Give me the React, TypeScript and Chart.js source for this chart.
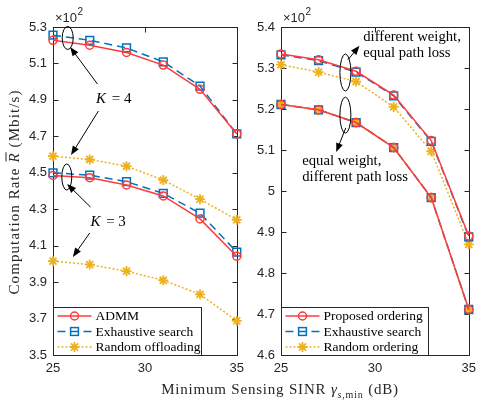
import React, { useEffect, useRef } from 'react';
import { Chart, registerables } from 'chart.js';

Chart.register(...registerables);

// ---------------- data ----------------
const xValues = [25, 27, 29, 31, 33, 35];

// left panel (Mbit/s)
const admmK4 = [522.7, 520.0, 516.0, 509.1, 495.8, 471.3];
const exhaustiveK4 = [525.5, 522.7, 518.5, 510.9, 497.6, 471.3];
const randomK4 = [459.1, 457.3, 453.6, 446.0, 435.5, 424.2];
const admmK3 = [448.5, 447.3, 443.3, 437.3, 424.7, 404.2];
const exhaustiveK3 = [450.0, 448.7, 445.1, 438.7, 427.8, 406.5];
const randomK3 = [401.5, 399.6, 396.0, 391.0, 383.3, 368.7];

// right panel (Mbit/s)
const proposedDiffWeight = [533.4, 532.0, 529.2, 523.4, 512.3, 489.0];
const exhaustiveDiffWeight = [533.2, 531.8, 529.0, 523.2, 512.1, 488.8];
const randomDiffWeight = [530.8, 529.0, 526.7, 520.5, 509.7, 487.0];
const proposedDiffPath = [521.1, 519.8, 516.7, 510.6, 498.4, 471.1];
const exhaustiveDiffPath = [521.1, 519.8, 516.7, 510.6, 498.4, 471.1];
const randomDiffPath = [521.1, 519.8, 516.7, 510.6, 498.4, 471.1];

const xTicks = [25, 30, 35];
const leftYTicks = [350, 370, 390, 410, 430, 450, 470, 490, 510, 530];
const rightYTicks = [460, 470, 480, 490, 500, 510, 520, 530, 540];

const leftLegend = ['ADMM', 'Exhaustive search', 'Random offloading'];
const rightLegend = ['Proposed ordering', 'Exhaustive search', 'Random ordering'];

// ---------------- styles ----------------
const RED = '#ff3b3b';
const BLUE = '#0072bd';
const ORANGE = '#edb120';
const AXIS = '#262626';
const SERIF = '"Liberation Serif", "Times New Roman", serif';
const SANS = '"Liberation Sans", Arial, sans-serif';
const DASH = [8, 5];
const DOT = [2, 2];

const pts = (ys: number[]) => xValues.map((x, i) => ({ x, y: ys[i] }));

const redDs = (ys: number[]) => ({
  data: pts(ys),
  borderColor: RED,
  backgroundColor: 'rgba(0,0,0,0)',
  borderWidth: 1.5,
  pointStyle: 'circle',
  pointRadius: 4,
  pointBorderWidth: 1.5,
  pointBorderColor: RED,
  pointBackgroundColor: 'rgba(0,0,0,0)',
  clip: false,
});
const blueDs = (ys: number[]) => ({
  data: pts(ys),
  borderColor: BLUE,
  backgroundColor: 'rgba(0,0,0,0)',
  borderWidth: 1.5,
  borderDash: DASH,
  pointStyle: 'rect',
  pointRadius: 5.5,
  pointBorderWidth: 1.5,
  pointBorderColor: BLUE,
  pointBackgroundColor: 'rgba(0,0,0,0)',
  clip: false,
});
const orangeDs = (ys: number[]) => ({
  data: pts(ys),
  borderColor: ORANGE,
  backgroundColor: ORANGE,
  borderWidth: 1.5,
  borderDash: DOT,
  pointStyle: 'star',
  pointRadius: 5,
  pointBorderWidth: 1.8,
  pointBorderColor: ORANGE,
  pointBackgroundColor: ORANGE,
  clip: false,
});

// ---------------- drawing helpers ----------------
function drawMarker(ctx: CanvasRenderingContext2D, kind: string, x: number, y: number, color: string) {
  ctx.save();
  ctx.setLineDash([]);
  ctx.strokeStyle = color;
  if (kind === 'circle') {
    ctx.lineWidth = 1.5;
    ctx.beginPath();
    ctx.arc(x, y, 4, 0, Math.PI * 2);
    ctx.stroke();
  } else if (kind === 'square') {
    ctx.lineWidth = 1.5;
    ctx.strokeRect(x - 3.9, y - 3.9, 7.8, 7.8);
  } else {
    ctx.lineWidth = 1.8;
    ctx.beginPath();
    for (let k = 0; k < 4; k++) {
      const a = (k * Math.PI) / 4;
      ctx.moveTo(x - 5 * Math.cos(a), y - 5 * Math.sin(a));
      ctx.lineTo(x + 5 * Math.cos(a), y + 5 * Math.sin(a));
    }
    ctx.stroke();
  }
  ctx.restore();
}

function arrow(ctx: CanvasRenderingContext2D, x1: number, y1: number, x2: number, y2: number) {
  const ang = Math.atan2(y2 - y1, x2 - x1);
  const hl = 9;
  const hw = 3.5;
  ctx.save();
  ctx.strokeStyle = '#000';
  ctx.fillStyle = '#000';
  ctx.lineWidth = 1;
  ctx.beginPath();
  ctx.moveTo(x1, y1);
  ctx.lineTo(x2 - hl * 0.8 * Math.cos(ang), y2 - hl * 0.8 * Math.sin(ang));
  ctx.stroke();
  ctx.beginPath();
  ctx.moveTo(x2, y2);
  ctx.lineTo(x2 - hl * Math.cos(ang) + hw * Math.sin(ang), y2 - hl * Math.sin(ang) - hw * Math.cos(ang));
  ctx.lineTo(x2 - hl * Math.cos(ang) - hw * Math.sin(ang), y2 - hl * Math.sin(ang) + hw * Math.cos(ang));
  ctx.closePath();
  ctx.fill();
  ctx.restore();
}

function ellipse(ctx: CanvasRenderingContext2D, cx: number, cy: number, rx: number, ry: number) {
  ctx.save();
  ctx.strokeStyle = '#000';
  ctx.lineWidth = 1;
  ctx.beginPath();
  ctx.ellipse(cx, cy, rx, ry, 0, 0, Math.PI * 2);
  ctx.stroke();
  ctx.restore();
}

const framePlugin = (yTicks: number[]) => ({
  id: 'frame',
  beforeDatasetsDraw(chart: any) {
    const { ctx, chartArea: a, scales } = chart;
    ctx.save();
    ctx.strokeStyle = AXIS;
    ctx.lineWidth = 1;
    const L = Math.round(a.left) + 0.5;
    const R = Math.round(a.right) + 0.5;
    const T = Math.round(a.top) + 0.5;
    const B = Math.round(a.bottom) + 0.5;
    ctx.strokeRect(L, T, R - L, B - T);
    ctx.beginPath();
    yTicks.forEach((v) => {
      const py = Math.round(scales.y.getPixelForValue(v)) + 0.5;
      ctx.moveTo(L, py);
      ctx.lineTo(L + 5, py);
      ctx.moveTo(R, py);
      ctx.lineTo(R - 5, py);
    });
    xTicks.forEach((v) => {
      const px = Math.round(scales.x.getPixelForValue(v)) + 0.5;
      ctx.moveTo(px, B);
      ctx.lineTo(px, B - 5);
      ctx.moveTo(px, T);
      ctx.lineTo(px, T + 5);
    });
    ctx.stroke();
    // x10^2
    ctx.fillStyle = AXIS;
    ctx.textBaseline = 'alphabetic';
    ctx.textAlign = 'left';
    ctx.font = `13px ${SANS}`;
    ctx.fillText('\u00d710', a.left + 2, a.top - 5);
    const w = ctx.measureText('\u00d710').width;
    ctx.font = `10px ${SANS}`;
    ctx.fillText('2', a.left + 2 + w + 0.5, a.top - 12);
    ctx.restore();
  },
});

const legendPlugin = (labels: string[], boxW: number) => ({
  id: 'boxlegend',
  afterDraw(chart: any) {
    const { ctx, chartArea: a } = chart;
    const L = Math.round(a.left) + 0.5;
    const B = Math.round(a.bottom) + 0.5;
    const T = B - 48;
    ctx.save();
    ctx.fillStyle = '#fff';
    ctx.fillRect(L, T, boxW, 48);
    ctx.strokeStyle = AXIS;
    ctx.lineWidth = 1;
    ctx.strokeRect(L, T, boxW, 48);
    const kinds = ['circle', 'square', 'star'];
    const colors = [RED, BLUE, ORANGE];
    const dashes = [[], DASH, DOT];
    labels.forEach((lab, i) => {
      const y = T + 8.5 + i * 15.5;
      ctx.save();
      ctx.strokeStyle = colors[i];
      ctx.lineWidth = 1.5;
      ctx.setLineDash(dashes[i]);
      ctx.beginPath();
      ctx.moveTo(L + 4, y);
      ctx.lineTo(L + 38, y);
      ctx.stroke();
      ctx.restore();
      drawMarker(ctx, kinds[i], L + 21, y, colors[i]);
      ctx.fillStyle = '#000';
      ctx.font = `13.5px ${SERIF}`;
      ctx.textBaseline = 'middle';
      ctx.textAlign = 'left';
      ctx.fillText(lab, L + 42, y + 0.5);
    });
    ctx.restore();
  },
});

const yLabelPlugin = {
  id: 'ylabel',
  afterDraw(chart: any) {
    const { ctx, chartArea: a } = chart;
    ctx.save();
    ctx.translate(15, (a.top + a.bottom) / 2 + 1);
    ctx.rotate(-Math.PI / 2);
    ctx.fillStyle = AXIS;
    ctx.strokeStyle = AXIS;
    ctx.textBaseline = 'middle';
    ctx.textAlign = 'left';
    (ctx as any).letterSpacing = '1.1px';
    const parts = [
      { t: 'Computation Rate ', f: `15px ${SERIF}`, over: false },
      { t: 'R', f: `italic 15px ${SERIF}`, over: true },
      { t: ' (Mbit/s)', f: `15px ${SERIF}`, over: false },
    ];
    let total = 0;
    parts.forEach((p) => {
      ctx.font = p.f;
      total += ctx.measureText(p.t).width;
    });
    let x = -total / 2;
    parts.forEach((p) => {
      ctx.font = p.f;
      const w = ctx.measureText(p.t).width;
      ctx.fillText(p.t, x, 0);
      if (p.over) {
        ctx.lineWidth = 1;
        ctx.beginPath();
        ctx.moveTo(x + 1, -9);
        ctx.lineTo(x + w, -9);
        ctx.stroke();
      }
      x += w;
    });
    ctx.restore();
  },
};

function mathText(ctx: CanvasRenderingContext2D, cx: number, cy: number, v: string, n: string) {
  ctx.save();
  ctx.fillStyle = '#000';
  ctx.textBaseline = 'middle';
  ctx.textAlign = 'left';
  ctx.font = `italic 15px ${SERIF}`;
  const w1 = ctx.measureText(v).width;
  ctx.font = `15px ${SERIF}`;
  const rest = ' = ' + n;
  const w2 = ctx.measureText(rest).width;
  const x0 = cx - (w1 + w2 + 2) / 2;
  ctx.font = `italic 15px ${SERIF}`;
  ctx.fillText(v, x0, cy);
  ctx.font = `15px ${SERIF}`;
  ctx.fillText(rest, x0 + w1 + 2, cy);
  ctx.restore();
}

const leftAnnot = {
  id: 'leftAnnot',
  afterDatasetsDraw(chart: any) {
    const { ctx, scales } = chart;
    const X = (v: number) => scales.x.getPixelForValue(v);
    const Y = (v: number) => scales.y.getPixelForValue(v);
    ellipse(ctx, X(25.8), Y(524), 5.5, 11.5);
    mathText(ctx, X(28.3), Y(490.5), 'K', '4');
    arrow(ctx, X(27.42), Y(498.7), X(25.93), Y(519));
    arrow(ctx, X(27.47), Y(483.9), X(25.98), Y(459.7));
    ellipse(ctx, X(25.75), Y(447.7), 5, 13);
    mathText(ctx, X(28.0), Y(423), 'K', '3');
    arrow(ctx, X(27.04), Y(431.2), X(25.77), Y(443.8));
    arrow(ctx, X(27.0), Y(417), X(26.08), Y(403.8));
  },
};

const rightAnnot = {
  id: 'rightAnnot',
  afterDatasetsDraw(chart: any) {
    const { ctx, scales } = chart;
    const X = (v: number) => scales.x.getPixelForValue(v);
    const Y = (v: number) => scales.y.getPixelForValue(v);
    ellipse(ctx, X(28.43), Y(528.9), 5.5, 18.5);
    arrow(ctx, X(28.56), Y(532), X(29.18), Y(535.4));
    ellipse(ctx, X(28.43), Y(518.5), 5.5, 18);
    arrow(ctx, X(28.45), Y(515.4), X(27.94), Y(509.5));
    ctx.save();
    ctx.fillStyle = '#000';
    ctx.font = `14.7px ${SERIF}`;
    ctx.textBaseline = 'middle';
    ctx.textAlign = 'left';
    ctx.fillText('different weight,', X(29.38), Y(537.6));
    ctx.fillText('equal path loss', X(29.38), Y(533.7));
    ctx.fillText('equal weight,', X(26.13), Y(507.3));
    ctx.fillText('different path loss', X(26.13), Y(503.4));
    ctx.restore();
  },
};

function makeOptions(yMin: number, yMax: number, step: number, yWidth: number, rightPad: number, fmt: (v: number) => string) {
  return {
    responsive: false,
    animation: false as const,
    devicePixelRatio: 1,
    events: [] as any[],
    layout: { padding: { left: 0, right: rightPad, top: 27, bottom: 0 } },
    plugins: { legend: { display: false }, tooltip: { enabled: false } },
    scales: {
      x: {
        type: 'linear' as const,
        min: 25,
        max: 35,
        ticks: { stepSize: 5, color: AXIS, font: { family: SANS, size: 13 }, padding: 6 },
        grid: { display: false, drawTicks: false },
        border: { display: false },
        afterFit: (s: any) => {
          s.height = 46;
        },
      },
      y: {
        type: 'linear' as const,
        min: yMin,
        max: yMax,
        ticks: { stepSize: step, color: AXIS, font: { family: SANS, size: 13 }, padding: 6, callback: (v: any) => fmt(Number(v)) },
        grid: { display: false, drawTicks: false },
        border: { display: false },
        afterFit: (s: any) => {
          s.width = yWidth;
        },
      },
    },
  };
}

export default function App() {
  const leftRef = useRef<HTMLCanvasElement>(null);
  const rightRef = useRef<HTMLCanvasElement>(null);

  useEffect(() => {
    const left = new Chart(leftRef.current as HTMLCanvasElement, {
      type: 'line',
      data: {
        datasets: [
          redDs(admmK4),
          redDs(admmK3),
          blueDs(exhaustiveK4),
          blueDs(exhaustiveK3),
          orangeDs(randomK4),
          orangeDs(randomK3),
        ] as any,
      },
      options: makeOptions(350, 530, 20, 53, 3, (v) => (v / 100).toFixed(1)) as any,
      plugins: [framePlugin(leftYTicks), leftAnnot, legendPlugin(leftLegend, 148), yLabelPlugin],
    });
    const right = new Chart(rightRef.current as HTMLCanvasElement, {
      type: 'line',
      data: {
        datasets: [
          redDs(proposedDiffWeight),
          redDs(proposedDiffPath),
          blueDs(exhaustiveDiffWeight),
          blueDs(exhaustiveDiffPath),
          orangeDs(randomDiffWeight),
          orangeDs(randomDiffPath),
        ] as any,
      },
      options: makeOptions(460, 540, 10, 31, 7, (v) => String(parseFloat((v / 100).toFixed(2)))) as any,
      plugins: [framePlugin(rightYTicks), rightAnnot, legendPlugin(rightLegend, 147)],
    });
    return () => {
      left.destroy();
      right.destroy();
    };
  }, []);

  return (
    <div style={{ position: 'absolute', left: 0, top: 0, width: 482, height: 401, background: '#fff', overflow: 'hidden' }}>
      <canvas ref={leftRef} width={250} height={401} style={{ position: 'absolute', left: 0, top: 0, display: 'block' }} />
      <canvas ref={rightRef} width={232} height={401} style={{ position: 'absolute', left: 250, top: 0, display: 'block' }} />
      <div
        style={{
          position: 'absolute',
          left: 80,
          top: 380,
          width: 400,
          textAlign: 'center',
          font: `15px ${SERIF}`,
          letterSpacing: '0.8px',
          color: AXIS,
          lineHeight: '18px',
          whiteSpace: 'nowrap',
        }}
      >
        Minimum Sensing SINR <i>γ</i>
        <span style={{ fontSize: 10, position: 'relative', top: 4 }}>
          <i>s</i>,min
        </span>{' '}
        (dB)
      </div>
    </div>
  );
}
